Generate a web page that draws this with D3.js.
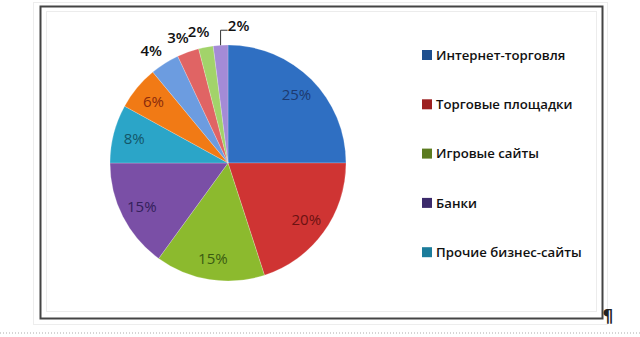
<!DOCTYPE html>
<html>
<head>
<meta charset="utf-8">
<script src="https://cdn.jsdelivr.net/npm/d3@7"></script>
<style>
  body { margin: 0; background: #fff; }
  svg { display: block; }
</style>
</head>
<body>
<div id="chart"></div>
<script>
var categories = ["Интернет-торговля", "Торговые площадки", "Игровые сайты", "Банки",
    "Прочие бизнес-сайты", "Прочее 1", "Прочее 2", "Прочее 3", "Прочее 4", "Прочее 5"];
var values = [25, 20, 15, 15, 8, 6, 4, 3, 2, 2];
var legendItems = categories.slice(0, 5);

var sliceColors = ["#2f6fc2", "#cf3433", "#8cba2e", "#7a4fa6", "#2ba5c8",
    "#f17a15", "#6c9ce0", "#e06464", "#a2d36a", "#a48bd6"];
var labelColors = ["#1d3a70", "#6b1212", "#3a5a12", "#33205a", "#135668",
    "#8a2a0c", "#111", "#111", "#111", "#111"];
var legendColors = ["#1f4f8e", "#9c1f1f", "#5b7b1f", "#3b2a6b", "#1b7c9b"];

var width = 640;
var height = 337;
var cx = 228, cy = 163;
var radius = 118;

var svg = d3.select("#chart")
    .append("svg")
    .attr("width", width)
    .attr("height", height);

// frame of the embedded chart
svg.append("rect")
    .attr("x", 33.5).attr("y", 2.5).attr("width", 574).attr("height", 322)
    .attr("fill", "none").attr("stroke", "#ededed").attr("stroke-width", 1);
svg.append("rect")
    .attr("x", 40.5).attr("y", 6.5).attr("width", 562).attr("height", 312)
    .attr("fill", "none").attr("stroke", "#444").attr("stroke-width", 2);
svg.append("rect")
    .attr("x", 46.5).attr("y", 11.5).attr("width", 550).attr("height", 300)
    .attr("fill", "none").attr("stroke", "#ececec").attr("stroke-width", 1);

svg.append("text")
    .attr("x", 608).attr("y", 322)
    .attr("text-anchor", "middle")
    .attr("font-family", "DejaVu Sans")
    .attr("font-weight", "bold")
    .attr("font-size", 17)
    .attr("fill", "#222")
    .text("¶");

svg.append("line")
    .attr("x1", 0).attr("x2", width).attr("y1", 333).attr("y2", 333)
    .attr("stroke", "#c8c8c8").attr("stroke-width", 1.5)
    .attr("stroke-dasharray", "1,2");

var pie = d3.pie()
    .value(function (d) { return d; })
    .sort(null);

var arc = d3.arc()
    .innerRadius(0)
    .outerRadius(radius);

var innerLabelArc = d3.arc().innerRadius(radius * 0.82).outerRadius(radius * 0.82);
var outerLabelArc = d3.arc().innerRadius(radius * 1.15).outerRadius(radius * 1.15);
var edgeArc = d3.arc().innerRadius(radius).outerRadius(radius);

var g = svg.append("g")
    .attr("transform", "translate(" + cx + "," + cy + ")");

var arcs = pie(values);

g.selectAll("path")
    .data(arcs)
    .enter()
    .append("path")
    .attr("d", arc)
    .attr("fill", function (d, i) { return sliceColors[i]; })
    .attr("stroke", "rgba(255,255,255,0.35)")
    .attr("stroke-width", 0.6);

// label position for each slice
function labelPos(d, i) {
    if (d.data >= 5) return innerLabelArc.centroid(d);
    if (i === arcs.length - 1) {
        var e = edgeArc.centroid(d);
        return [e[0] + 18, e[1] - 19];
    }
    var p = outerLabelArc.centroid(d);
    return [p[0] - 4, p[1] + 2];
}

// leader line for the last, crowded slice
var last = arcs[arcs.length - 1];
var e = edgeArc.centroid(last);
g.append("path")
    .attr("d", "M" + e[0] + "," + e[1] + "V" + (e[1] - 15) + "H" + (e[0] + 7))
    .attr("fill", "none")
    .attr("stroke", "#333")
    .attr("stroke-width", 1);

g.selectAll(".lbl")
    .data(arcs)
    .enter()
    .append("text")
    .attr("class", "lbl")
    .attr("transform", function (d, i) {
        return "translate(" + labelPos(d, i) + ")";
    })
    .attr("text-anchor", "middle")
    .attr("dy", "0.35em")
    .attr("font-family", "Open Sans")
    .attr("font-weight", function (d) { return d.data >= 5 ? 400 : 600; })
    .attr("font-size", 15)
    .attr("fill", function (d, i) { return labelColors[i]; })
    .text(function (d) { return d.data + "%"; });

// legend
var legend = svg.selectAll(".legend")
    .data(legendItems)
    .enter()
    .append("g")
    .attr("class", "legend")
    .attr("transform", function (d, i) {
        return "translate(422," + (55 + i * 49.3) + ")";
    });

legend.append("rect")
    .attr("x", 0)
    .attr("y", -5)
    .attr("width", 10)
    .attr("height", 10)
    .attr("fill", function (d, i) { return legendColors[i]; });

legend.append("text")
    .attr("x", 14)
    .attr("dy", "0.36em")
    .attr("font-family", "Open Sans")
    .attr("font-weight", 600)
    .attr("font-size", 13.2)
    .attr("fill", "#111")
    .text(function (d) { return d; });
</script>
</body>
</html>
